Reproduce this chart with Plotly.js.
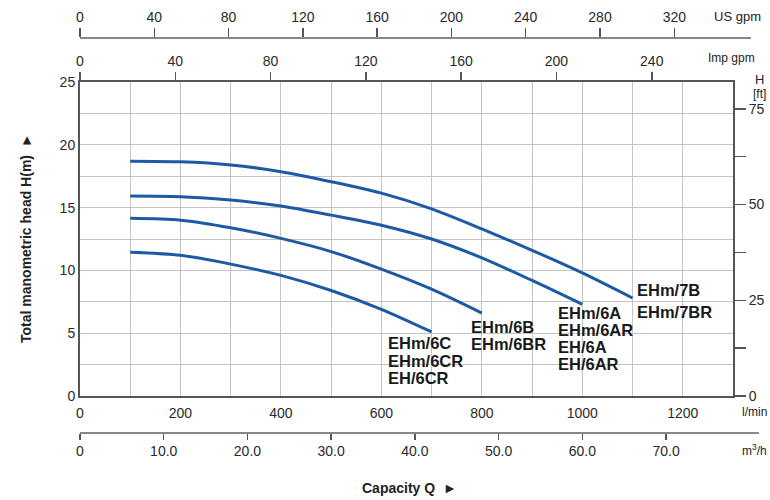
<!DOCTYPE html>
<html>
<head>
<meta charset="utf-8">
<script src="https://cdn.plot.ly/plotly-3.0.1.min.js"></script>
<style>html,body{margin:0;padding:0;background:#fff;}#chart{width:770px;height:500px;}</style>
</head>
<body>
<div id="chart"></div>
<script>
// ---- Data (flow in l/min, head in m) ----
const q7B = [100, 200, 300, 400, 500, 600, 700, 800, 900, 1000, 1100];
const h7B = [18.7, 18.65, 18.4, 17.86, 17.06, 16.15, 14.9, 13.3, 11.6, 9.8, 7.8];
const q6A = [100, 200, 300, 400, 500, 600, 700, 800, 900, 1000];
const h6A = [15.92, 15.87, 15.6, 15.13, 14.4, 13.6, 12.5, 11.0, 9.2, 7.3];
const q6B = [100, 200, 300, 400, 500, 600, 700, 800];
const h6B = [14.15, 14.0, 13.4, 12.55, 11.5, 10.1, 8.5, 6.6];
const q6C = [100, 200, 300, 400, 500, 600, 700];
const h6C = [11.44, 11.2, 10.5, 9.6, 8.4, 6.9, 5.1];

const labels7B = ["EHm/7B", "EHm/7BR"];
const labels6A = ["EHm/6A", "EHm/6AR", "EH/6A", "EH/6AR"];
const labels6B = ["EHm/6B", "EHm/6BR"];
const labels6C = ["EHm/6C", "EHm/6CR", "EH/6CR"];

// tick labels
const lminTicks = [0, 200, 400, 600, 800, 1000, 1200];
const m3hTicks = [0, 10, 20, 30, 40, 50, 60, 70];
const m3hText = ["0", "10.0", "20.0", "30.0", "40.0", "50.0", "60.0", "70.0"];
const usTicks = [0, 40, 80, 120, 160, 200, 240, 280, 320];
const impTicks = [0, 40, 80, 120, 160, 200, 240];
const hmTicks = [0, 5, 10, 15, 20, 25];
const hftTicks = [0, 25, 50, 75];
const hftMinorTicks = [12.5, 37.5, 62.5];

// ---- Layout helpers ----
const W = 770, H = 500;
const px = v => v / W;
const py = v => 1 - v / H;
const FONT = "Liberation Sans, Arial, sans-serif";
const BLUE = "#1d5aa6";
const AX = "#555";

function curve(x, y) {
  return {x: x, y: y, type: "scatter", mode: "lines", xaxis: "x", yaxis: "y",
    line: {color: BLUE, width: 3, shape: "spline", smoothing: 0.8},
    hoverinfo: "skip", showlegend: false};
}
const traces = [curve(q7B, h7B), curve(q6A, h6A), curve(q6B, h6B), curve(q6C, h6C)];
// hidden traces only to register the secondary unit axes
[["x2", "y"], ["x", "y2"], ["x3", "y3"], ["x4", "y4"]].forEach(a => {
  traces.push({type: "scatter", x: [], y: [], xaxis: a[0], yaxis: a[1], visible: false, showlegend: false});
});

// label placement (pixel positions)
const groups = [
  {lines: labels7B, x: 635, ys: [290, 311.7]},
  {lines: labels6A, x: 556, ys: [313.3, 330.3, 347.3, 364.3]},
  {lines: labels6B, x: 469, ys: [326.7, 343.5]},
  {lines: labels6C, x: 386, ys: [343.3, 360.8, 378.3]}
];
const annotations = [];
groups.forEach(g => g.lines.forEach((t, i) => {
  annotations.push({text: "<b>" + t + "</b>", x: px(g.x), y: py(g.ys[i]), xref: "paper", yref: "paper",
    xanchor: "left", yanchor: "middle", showarrow: false, font: {family: FONT, size: 16.5, color: "#1a1a1a"}});
}));
function txt(t, x, y, size, opts) {
  annotations.push(Object.assign({text: t, x: px(x), y: py(y), xref: "paper", yref: "paper",
    showarrow: false, xanchor: "center", yanchor: "middle", font: {family: FONT, size: size, color: "#222"}}, opts || {}));
}
txt("US gpm", 737, 16, 13);
txt("Imp gpm", 731, 58, 12);
txt("H", 759, 79, 13);
txt("[ft]", 759, 94, 12);
txt("l/min", 754, 412, 12);
txt("m<sup>3</sup>/h", 754, 450, 12);
txt("<b>Capacity Q  ►</b>", 410, 488, 14);
txt("<b>Total manometric head H(m)  ►</b>", 26, 238, 14, {textangle: -90});

const tickFont = {family: FONT, size: 14, color: "#2a2a2a"};
const xDom = [px(80), px(733)];
const yDom = [py(396), py(82)];

const layout = {
  width: W, height: H,
  margin: {l: 0, r: 0, t: 0, b: 0, pad: 0},
  paper_bgcolor: "#fff", plot_bgcolor: "rgba(0,0,0,0)",
  showlegend: false,
  xaxis: {domain: xDom, range: [0, 1300], anchor: "y", tickvals: lminTicks,
    showline: true, linecolor: AX, linewidth: 2, ticks: "outside", ticklen: 3, tickcolor: "rgba(0,0,0,0)",
    showgrid: true, gridcolor: "#c4c4c4", gridwidth: 1, zeroline: false, tickfont: tickFont,
    minor: {dtick: 100, showgrid: true, gridcolor: "#c4c4c4", gridwidth: 1, ticks: ""}},
  yaxis: {domain: yDom, range: [0, 25], anchor: "x", tickvals: hmTicks,
    showline: true, mirror: true, linecolor: AX, linewidth: 2, ticks: "", zeroline: false,
    showgrid: true, gridcolor: "#c4c4c4", gridwidth: 1, tickfont: tickFont,
    minor: {dtick: 2.5, showgrid: true, gridcolor: "#c4c4c4", gridwidth: 1, ticks: ""}},
  yaxis2: {overlaying: "y", side: "right", anchor: "x", range: [0, 82.02], tickvals: hftTicks,
    ticks: "outside", ticklen: 12, tickwidth: 1.5, tickcolor: AX, showgrid: false, zeroline: false,
    showline: false, tickfont: tickFont,
    minor: {tickvals: hftMinorTicks, ticks: "outside", ticklen: 12, tickwidth: 1.5, tickcolor: AX, showgrid: false}},
  xaxis2: {overlaying: "x", side: "top", anchor: "y", range: [0, 274.1], tickvals: impTicks,
    ticks: "outside", ticklen: 8, tickwidth: 1.5, tickcolor: AX, showline: true, linecolor: AX, linewidth: 2,
    showgrid: false, zeroline: false, tickfont: tickFont},
  xaxis3: {domain: [px(80), px(751)], anchor: "free", position: py(37), side: "top", range: [0, 361.3],
    tickvals: usTicks, ticks: "outside", ticklen: 9, tickwidth: 1.5, tickcolor: AX, showline: true,
    linecolor: "#888", linewidth: 1.5, showgrid: false, zeroline: false, tickfont: tickFont},
  yaxis3: {domain: yDom, anchor: "x3", range: [0, 1], visible: false, showgrid: false, zeroline: false},
  xaxis4: {domain: [px(80), px(759)], anchor: "free", position: py(432), side: "bottom", range: [0, 81.1],
    tickvals: m3hTicks, ticktext: m3hText, ticks: "outside", ticklen: 6, tickwidth: 1.5, tickcolor: AX,
    showline: true, linecolor: "#888", linewidth: 1.5, showgrid: false, zeroline: false, tickfont: tickFont},
  yaxis4: {domain: yDom, anchor: "x4", range: [0, 1], visible: false, showgrid: false, zeroline: false},
  annotations: annotations
};

Plotly.newPlot("chart", traces, layout, {staticPlot: true, displayModeBar: false});
</script>
</body>
</html>
